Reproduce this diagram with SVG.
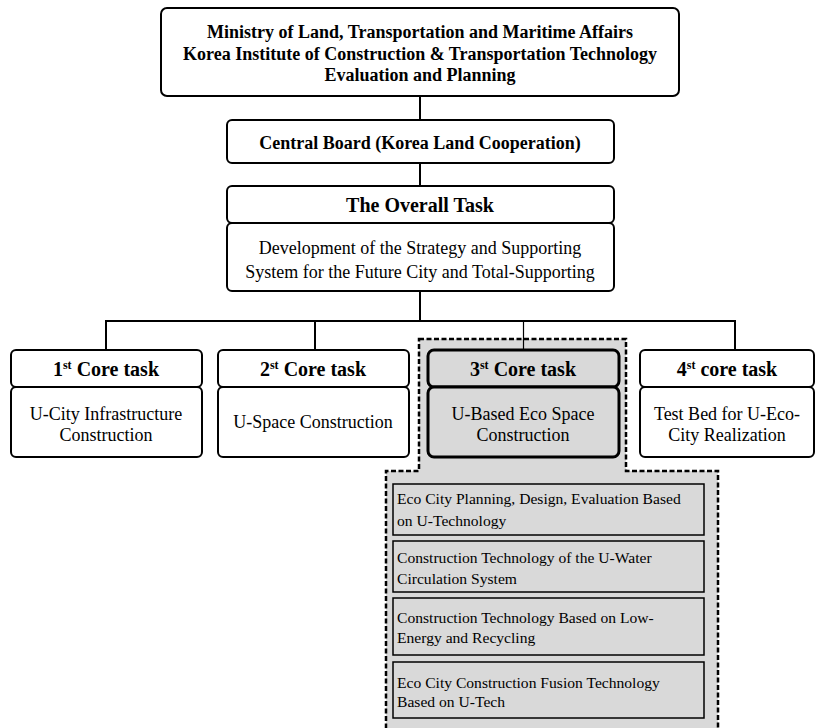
<svg xmlns="http://www.w3.org/2000/svg" width="821" height="728" viewBox="0 0 821 728">
<style>
.box{fill:#fff;stroke:#000;stroke-width:2}
.hl{fill:#d9d9d9;stroke:#000;stroke-width:3}
.sub{fill:#d9d9d9;stroke:#000;stroke-width:1.5}
.ln{stroke:#000;stroke-width:2;fill:none}
.t{font-family:"Liberation Serif","Times New Roman",serif;fill:#000}
.b{font-weight:bold}
.c{text-anchor:middle}
.f18{font-size:18px}
.f20{font-size:20px}
.fs{font-size:15.6px}
</style>
<rect width="821" height="728" fill="#fff"/>
<g id="highlight">
<path d="M419,339 H626 V471 H718 V732 H386 V471 H419 Z" fill="#d9d9d9" stroke="#000" stroke-width="2.5" stroke-dasharray="5,2.5"/>
</g>
<g id="connectors">
<line class="ln" x1="420" y1="96" x2="420" y2="120"/>
<line class="ln" x1="420" y1="163" x2="420" y2="186"/>
<line class="ln" x1="420" y1="291" x2="420" y2="321"/>
<line class="ln" x1="105" y1="321" x2="736" y2="321"/>
<line class="ln" x1="106" y1="321" x2="106" y2="350"/>
<line class="ln" x1="315" y1="321" x2="315" y2="350"/>
<line x1="523.5" y1="321" x2="523.5" y2="350" stroke="#000" stroke-width="1.2"/>
<line class="ln" x1="735" y1="321" x2="735" y2="350"/>
</g>
<g id="ministry">
<rect class="box" x="161" y="8" width="518" height="88" rx="6"/>
<text class="t b c f18" x="420" y="38">Ministry of Land, Transportation and Maritime Affairs</text>
<text class="t b c f18" x="420" y="60">Korea Institute of Construction &amp; Transportation Technology</text>
<text class="t b c f18" x="420" y="81">Evaluation and Planning</text>
</g>
<g id="central-board">
<rect class="box" x="227" y="120" width="387" height="43" rx="5"/>
<text class="t b c f18" x="420" y="149">Central Board (Korea Land Cooperation)</text>
</g>
<g id="overall-task">
<rect class="box" x="227" y="186" width="387" height="37" rx="5"/>
<text class="t b c f20" x="420" y="212">The Overall Task</text>
<rect class="box" x="227" y="223" width="387" height="68" rx="5"/>
<text class="t c f18" x="420" y="254">Development of the Strategy and Supporting</text>
<text class="t c f18" x="420" y="278">System for the Future City and Total-Supporting</text>
</g>
<g id="core1">
<rect class="box" x="11" y="350" width="191" height="37" rx="5"/>
<text class="t b c f20" x="106" y="376">1<tspan font-size="12" dy="-7">st</tspan><tspan dy="7"> Core task</tspan></text>
<rect class="box" x="11" y="387" width="191" height="70" rx="5"/>
<text class="t c f18" x="106" y="420">U-City Infrastructure</text>
<text class="t c f18" x="106" y="441">Construction</text>
</g>
<g id="core2">
<rect class="box" x="218" y="350" width="191" height="37" rx="5"/>
<text class="t b c f20" x="313" y="376">2<tspan font-size="12" dy="-7">st</tspan><tspan dy="7"> Core task</tspan></text>
<rect class="box" x="218" y="387" width="191" height="70" rx="5"/>
<text class="t c f18" x="313" y="428">U-Space  Construction</text>
</g>
<g id="core3">
<rect class="hl" x="428" y="350" width="191" height="37" rx="6"/>
<text class="t b c f20" x="523" y="376">3<tspan font-size="12" dy="-7">st</tspan><tspan dy="7"> Core task</tspan></text>
<rect class="hl" x="428" y="387" width="191" height="70" rx="6"/>
<text class="t c f18" x="523" y="420">U-Based Eco Space</text>
<text class="t c f18" x="523" y="441">Construction</text>
</g>
<g id="core4">
<rect class="box" x="640" y="350" width="174" height="37" rx="5"/>
<text class="t b c f20" x="727" y="376">4<tspan font-size="12" dy="-7">st</tspan><tspan dy="7"> core task</tspan></text>
<rect class="box" x="640" y="387" width="174" height="70" rx="5"/>
<text class="t c f18" x="727" y="420">Test Bed for U-Eco-</text>
<text class="t c f18" x="727" y="441">City  Realization</text>
</g>
<g id="sub1">
<rect class="sub" x="393" y="484" width="311" height="51"/>
<text class="t fs" x="397" y="504">Eco City Planning, Design, Evaluation Based</text>
<text class="t fs" x="397" y="526">on U-Technology</text>
</g>
<g id="sub2">
<rect class="sub" x="393" y="541" width="311" height="51"/>
<text class="t fs" x="397" y="563">Construction Technology of the U-Water</text>
<text class="t fs" x="397" y="584">Circulation System</text>
</g>
<g id="sub3">
<rect class="sub" x="393" y="598" width="311" height="57"/>
<text class="t fs" x="397" y="623">Construction Technology Based on Low-</text>
<text class="t fs" x="397" y="643">Energy and Recycling</text>
</g>
<g id="sub4">
<rect class="sub" x="393" y="662" width="311" height="56"/>
<text class="t fs" x="397" y="688">Eco City Construction Fusion Technology</text>
<text class="t fs" x="397" y="707">Based on U-Tech</text>
</g>
</svg>
